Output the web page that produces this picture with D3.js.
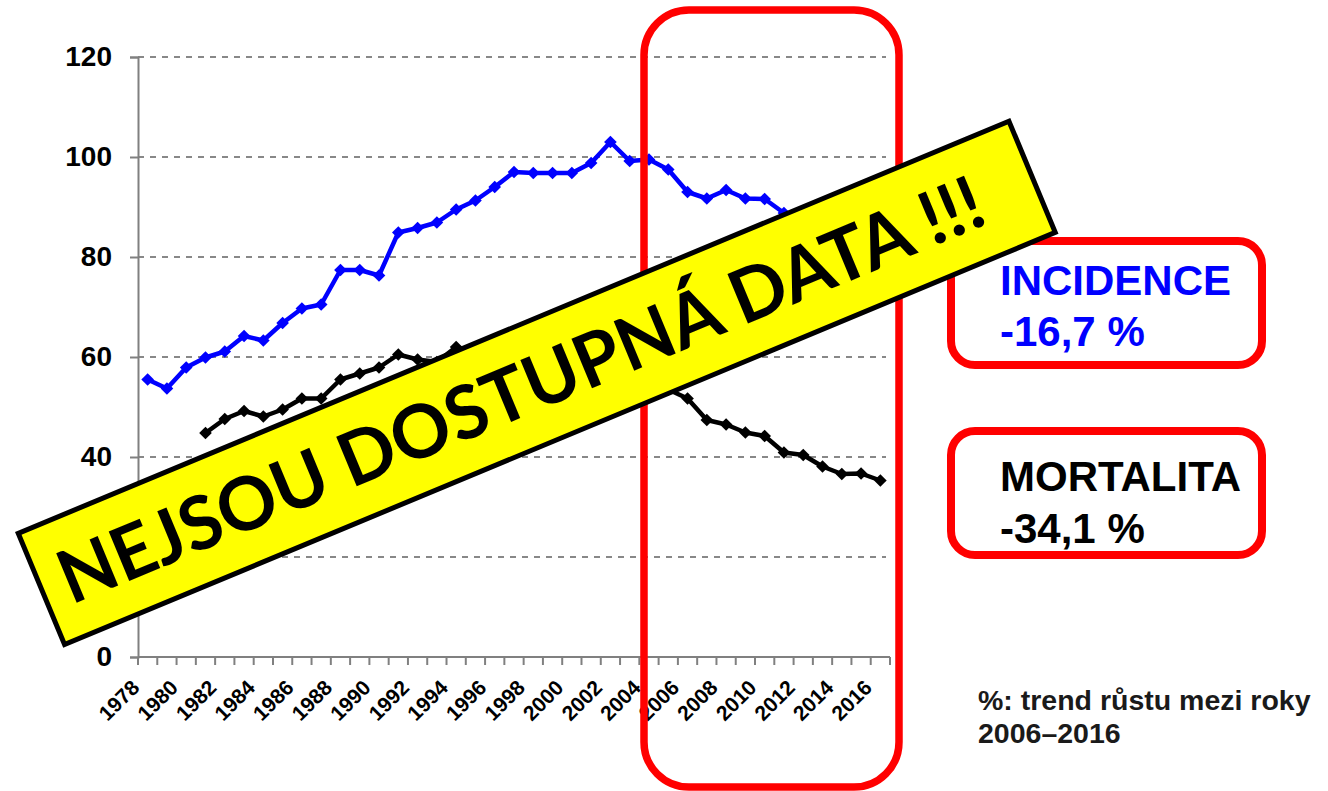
<!DOCTYPE html>
<html>
<head>
<meta charset="utf-8">
<script src="https://cdn.jsdelivr.net/npm/d3@7"></script>
<style>
  body { margin: 0; background: #fff; }
  svg { display: block; }
  text { font-family: "Liberation Sans", Arial, sans-serif; font-weight: bold; }
</style>
</head>
<body>
<div id="chart"></div>
<script>
const years = [1978, 1979, 1980, 1981, 1982, 1983, 1984, 1985, 1986, 1987,
    1988, 1989, 1990, 1991, 1992, 1993, 1994, 1995, 1996, 1997,
    1998, 1999, 2000, 2001, 2002, 2003, 2004, 2005, 2006, 2007,
    2008, 2009, 2010, 2011, 2012, 2013, 2014, 2015, 2016];

const incidence = [55.5, 53.7, 57.9, 59.9, 61.1, 64.2, 63.3, 66.8, 69.7, 70.5,
    77.4, 77.4, 76.3, 84.9, 85.8, 86.9, 89.5, 91.3, 94.0, 97.0,
    96.8, 96.8, 96.8, 98.8, 103.0, 99.2, 99.5, 97.5, 93.0, 91.7,
    93.4, 91.7, 91.6, 88.8, 86.5, 84.0, 82.0, 80.0, 77.5];

const mortalita = [null, null, null, 44.8, 47.6, 49.2, 48.1, 49.5, 51.7, 51.7,
    55.5, 56.7, 57.9, 60.5, 59.5, 59.0, 62.0, 61.0, 61.5, 60.5,
    59.5, 58.5, 57.5, 57.5, 56.5, 55.5, 54.5, 53.5, 51.7, 47.4,
    46.5, 44.9, 44.2, 40.9, 40.4, 38.1, 36.6, 36.7, 35.3];

const yTicks = [0, 20, 40, 60, 80, 100, 120];
const xLabelYears = years.filter(y => (y - 1978) % 2 === 0);

const boxTexts = [
    { title: "INCIDENCE", value: "-16,7 %", color: "#0000ff" },
    { title: "MORTALITA", value: "-34,1 %", color: "#000000" }
];
const footnote = ["%: trend růstu mezi roky", "2006–2016"];
const bannerText = "NEJSOU DOSTUPNÁ DATA !!!";

const width = 1328;
const height = 791;

const svg = d3.select("#chart")
    .append("svg")
    .attr("width", width)
    .attr("height", height);

const x = d3.scaleBand()
    .domain(years)
    .range([138, 890])
    .padding(0);

const y = d3.scaleLinear()
    .domain([0, 120])
    .range([657, 57]);

const cx = d => x(d) + x.bandwidth() / 2;

// gridlines
svg.append("g")
    .selectAll("line")
    .data(yTicks.filter(t => t > 0))
    .enter()
    .append("line")
    .attr("x1", 138)
    .attr("x2", 886)
    .attr("y1", d => y(d))
    .attr("y2", d => y(d))
    .attr("stroke", "#888888")
    .attr("stroke-width", 2.2)
    .attr("stroke-dasharray", "6,6");

// y axis
const yAxis = svg.append("g")
    .attr("transform", "translate(138,0)")
    .call(d3.axisLeft(y).tickValues(yTicks).tickSize(8).tickPadding(18));
yAxis.select(".domain").attr("stroke", "#808080").attr("stroke-width", 2);
yAxis.selectAll(".tick line").attr("stroke", "#808080").attr("stroke-width", 2);
yAxis.selectAll(".tick text")
    .attr("fill", "#000")
    .style("font-size", "28px")
    .style("font-family", "'Liberation Sans', Arial, sans-serif")
    .style("font-weight", "bold");

// x axis line and ticks at category boundaries
const xg = svg.append("g");
xg.append("line")
    .attr("x1", 138).attr("x2", 890)
    .attr("y1", 657).attr("y2", 657)
    .attr("stroke", "#808080").attr("stroke-width", 2);
xg.selectAll("line.tk")
    .data(years.concat(["end"]))
    .enter()
    .append("line")
    .attr("class", "tk")
    .attr("x1", d => d === "end" ? x.range()[1] : x(d))
    .attr("x2", d => d === "end" ? x.range()[1] : x(d))
    .attr("y1", 657).attr("y2", 665)
    .attr("stroke", "#808080").attr("stroke-width", 2);
xg.selectAll("text")
    .data(xLabelYears)
    .enter()
    .append("text")
    .attr("transform", d => `translate(${cx(d) - 7},689) rotate(-45)`)
    .attr("text-anchor", "end")
    .style("font-size", "21px")
    .text(d => d);

// series
const line = d3.line()
    .defined(d => d.v !== null)
    .x(d => cx(d.year))
    .y(d => y(d.v));

const series = [
    { name: "incidence", values: incidence, color: "#0000ff" },
    { name: "mortalita", values: mortalita, color: "#000000" }
];

series.forEach(s => {
    const pts = years.map((yr, i) => ({ year: yr, v: s.values[i] }));
    svg.append("path")
        .datum(pts)
        .attr("d", line)
        .attr("fill", "none")
        .attr("stroke", s.color)
        .attr("stroke-width", 4.5)
        .attr("stroke-linejoin", "round");
    svg.append("g")
        .selectAll("path")
        .data(pts.filter(d => d.v !== null))
        .enter()
        .append("path")
        .attr("d", d3.symbol(d3.symbolSquare).size(80))
        .attr("transform", d => `translate(${cx(d.year)},${y(d.v)}) rotate(45)`)
        .attr("fill", s.color);
});

// red highlight box around 2006-2016
svg.append("rect")
    .attr("x", 644).attr("y", 10)
    .attr("width", 255).attr("height", 777)
    .attr("rx", 45)
    .attr("fill", "none")
    .attr("stroke", "#ff0000")
    .attr("stroke-width", 7.5);

// trend boxes
const boxTops = [241, 431];
boxTexts.forEach((b, i) => {
    const top = boxTops[i];
    svg.append("rect")
        .attr("x", 951).attr("y", top)
        .attr("width", 311).attr("height", 124)
        .attr("rx", 24)
        .attr("fill", "#fff")
        .attr("stroke", "#ff0000")
        .attr("stroke-width", 8);
    svg.append("text")
        .attr("x", 1000).attr("y", top + 54 + (i === 1 ? 6 : 0))
        .attr("fill", b.color)
        .style("font-size", "42px")
        .text(b.title);
    svg.append("text")
        .attr("x", 1000).attr("y", top + 105 + (i === 1 ? 7 : 0))
        .attr("fill", b.color)
        .style("font-size", "42px")
        .text(b.value);
});

// footnote
svg.append("g")
    .selectAll("text")
    .data(footnote)
    .enter()
    .append("text")
    .attr("x", 978)
    .attr("y", (d, i) => 710 + i * 33)
    .attr("fill", "#1a1a1a")
    .style("font-size", "28.5px")
    .text(d => d);

// banner
const banner = svg.append("g")
    .attr("transform", "translate(15,532) rotate(-22.59)");
banner.append("rect")
    .attr("x", 2.5).attr("y", 2.5)
    .attr("width", 1073).attr("height", 120.5)
    .attr("fill", "#ffff00")
    .attr("stroke", "#000")
    .attr("stroke-width", 5);
banner.append("text")
    .attr("x", 24).attr("y", 89)
    .attr("textLength", 995)
    .attr("lengthAdjust", "spacingAndGlyphs")
    .style("font-family", "Lato, 'Open Sans', sans-serif")
    .style("font-weight", "bold")
    .style("font-size", "74px")
    .attr("fill", "#000")
    .text(bannerText);
</script>
</body>
</html>
